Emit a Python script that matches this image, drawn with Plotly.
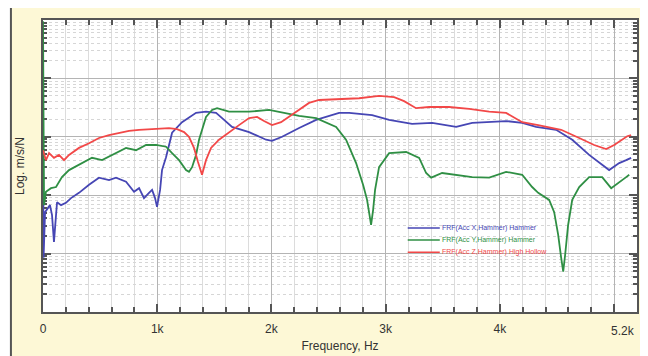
import numpy as np
import plotly.graph_objects as go

# ---- data (frequency in Hz, log10 of magnitude) ----
x_freq = [0, 5, 18, 35, 61, 79, 96, 114, 123, 158, 201, 245, 315, 403, 490, 578, 639, 727, 797, 841,
          884, 928, 955, 981, 998, 1025, 1042, 1077, 1130, 1217, 1340, 1427, 1515, 1568, 1655, 1804,
          1953, 2005, 2093, 2242, 2391, 2592, 2680, 2881, 3030, 3231, 3407, 3617, 3757, 4054, 4195,
          4317, 4492, 4633, 4781, 4956, 5044, 5105, 5149]
x_log = [3.24, 0.93, 1.71, 1.75, 1.83, 1.66, 1.20, 1.66, 1.88, 1.83, 1.87, 1.95, 2.04, 2.18, 2.30,
         2.26, 2.30, 2.23, 2.06, 2.12, 1.95, 2.04, 2.09, 1.95, 1.80, 2.09, 2.43, 2.65, 3.07, 3.25,
         3.41, 3.43, 3.41, 3.32, 3.17, 3.08, 2.95, 2.93, 3.00, 3.15, 3.29, 3.41, 3.41, 3.37, 3.29,
         3.22, 3.24, 3.17, 3.24, 3.27, 3.24, 3.17, 3.12, 2.95, 2.69, 2.43, 2.55, 2.60, 2.64]

y_freq = [0, 9, 26, 70, 114, 166, 228, 315, 429, 517, 639, 727, 814, 902, 990, 1077, 1130, 1191, 1252,
          1278, 1305, 1340, 1366, 1401, 1427, 1480, 1524, 1629, 1804, 1979, 2242, 2391, 2478, 2566,
          2653, 2741, 2802, 2837, 2855, 2872, 2890, 2907, 2942, 3030, 3179, 3293, 3354, 3398, 3494,
          3617, 3757, 3906, 4054, 4195, 4282, 4335, 4431, 4475, 4510, 4536, 4554, 4571, 4597, 4633,
          4694, 4781, 4895, 4974, 5044, 5105, 5132]
y_log = [4.98, 1.83, 2.06, 2.12, 2.14, 2.31, 2.43, 2.52, 2.64, 2.60, 2.72, 2.81, 2.77, 2.86, 2.86,
         2.83, 2.72, 2.60, 2.43, 2.40, 2.48, 2.69, 2.95, 3.20, 3.34, 3.46, 3.49, 3.43, 3.43, 3.46,
         3.36, 3.32, 3.24, 3.17, 2.95, 2.55, 2.18, 1.92, 1.70, 1.49, 1.75, 2.09, 2.48, 2.72, 2.74,
         2.64, 2.38, 2.30, 2.38, 2.35, 2.31, 2.30, 2.40, 2.35, 2.14, 2.04, 1.92, 1.71, 1.32, 0.93,
         0.69, 0.98, 1.49, 1.92, 2.14, 2.31, 2.31, 2.12, 2.23, 2.31, 2.35]

z_freq = [0, 26, 53, 96, 140, 184, 228, 315, 403, 490, 578, 666, 753, 841, 928, 1016, 1103, 1173,
          1235, 1278, 1322, 1357, 1392, 1427, 1471, 1541, 1629, 1716, 1804, 1874, 1935, 2005, 2084,
          2154, 2242, 2329, 2417, 2592, 2767, 2942, 3074, 3161, 3266, 3380, 3555, 3731, 3906, 4054,
          4195, 4335, 4536, 4694, 4825, 4930, 5000, 5114, 5149]
z_log = [2.77, 2.60, 2.72, 2.64, 2.69, 2.60, 2.69, 2.81, 2.89, 2.98, 3.03, 3.07, 3.10, 3.12, 3.13,
         3.15, 3.15, 3.13, 3.08, 3.00, 2.81, 2.57, 2.35, 2.60, 2.81, 2.95, 3.08, 3.20, 3.32, 3.34,
         3.27, 3.20, 3.25, 3.34, 3.46, 3.58, 3.63, 3.65, 3.66, 3.70, 3.68, 3.61, 3.49, 3.51, 3.51,
         3.48, 3.43, 3.41, 3.25, 3.20, 3.12, 2.98, 2.86, 2.79, 2.86, 3.01, 3.03]

x_ticks = [0, 1000, 2000, 3000, 4000, 5000]
x_tick_labels = ["0", "1k", "2k", "3k", "4k", ""]

names = ["FRF(Acc X,Hammer) Hammer", "FRF(Acc Y,Hammer) Hammer", "FRF(Acc Z,Hammer) High Hollow"]
colors = ["#4646b4", "#2f8f44", "#f24848"]

FONT = "Liberation Sans, Arial, sans-serif"

fig = go.Figure()
for fr, lg, nm, col in [(x_freq, x_log, names[0], colors[0]),
                        (y_freq, y_log, names[1], colors[1]),
                        (z_freq, z_log, names[2], colors[2])]:
    fig.add_trace(go.Scatter(
        x=fr, y=10 ** np.array(lg), mode="lines", line=dict(color=col, width=1.8),
        name=nm, showlegend=False, cliponaxis=False))

# cream frame behind the chart, white plot area
fig.add_shape(type="rect", xref="paper", yref="paper",
              x0=-0.054, x1=1.0101, y0=-0.2, y1=1.0445,
              fillcolor="#fdf8d6", line=dict(color="#555555", width=2), layer="below")
fig.add_shape(type="rect", xref="paper", yref="paper", x0=0, x1=1, y0=0, y1=1,
              fillcolor="white", line=dict(width=0), layer="below")

# legend drawn inside the plot
leg_y = [0.288, 0.247, 0.205]
for nm, col, ly in zip(names, colors, leg_y):
    fig.add_shape(type="line", xref="paper", yref="paper", x0=0.614, x1=0.668, y0=ly, y1=ly,
                  line=dict(color=col, width=1.5))
    fig.add_annotation(x=0.668, y=ly, xref="paper", yref="paper", text=nm, showarrow=False,
                       xanchor="left", yanchor="middle",
                       font=dict(family=FONT, size=7, color=col))

fig.add_annotation(x=5200, y=-0.035, xref="x", yref="paper", text="5.2k", showarrow=False,
                   xanchor="right", yanchor="top", font=dict(family=FONT, size=12, color="#333333"))

fig.update_layout(
    width=640, height=348,
    margin=dict(l=35, r=11, t=12, b=44, autoexpand=False),
    paper_bgcolor="white", plot_bgcolor="white",
    font=dict(family=FONT, size=12, color="#333333"),
    showlegend=False,
    xaxis=dict(range=[0, 5200], tickvals=x_ticks, ticktext=x_tick_labels, automargin=False,
               ticks="inside", ticklen=8, tickwidth=2, tickcolor="#555555",
               showline=True, linecolor="#555555", linewidth=2, mirror="ticks",
               showgrid=True, gridcolor="#b4b4b4", gridwidth=1, zeroline=False,
               minor=dict(dtick=200, ticks="inside", ticklen=5, tickcolor="#555555",
                          showgrid=True, gridcolor="#dcdcdc"),
               ticklabelstandoff=5,
               title=dict(text="Frequency, Hz", standoff=6, font=dict(size=12)),
               tickfont=dict(size=12, color="#333333")),
    yaxis=dict(type="log", range=[0, 5], dtick=1, showticklabels=False, automargin=False,
               ticks="inside", ticklen=8, tickwidth=2, tickcolor="#555555",
               showline=True, linecolor="#555555", linewidth=2, mirror="ticks",
               layer="below traces",
               showgrid=True, gridcolor="#b4b4b4", gridwidth=1, zeroline=False,
               minor=dict(dtick="D1", ticks="inside", ticklen=4, tickcolor="#555555",
                          showgrid=True, gridcolor="#d6d6d6", griddash="dot"),
               title=dict(text="Log. m/s/N", standoff=14, font=dict(size=12))),
)

fig.write_html("out.html")
